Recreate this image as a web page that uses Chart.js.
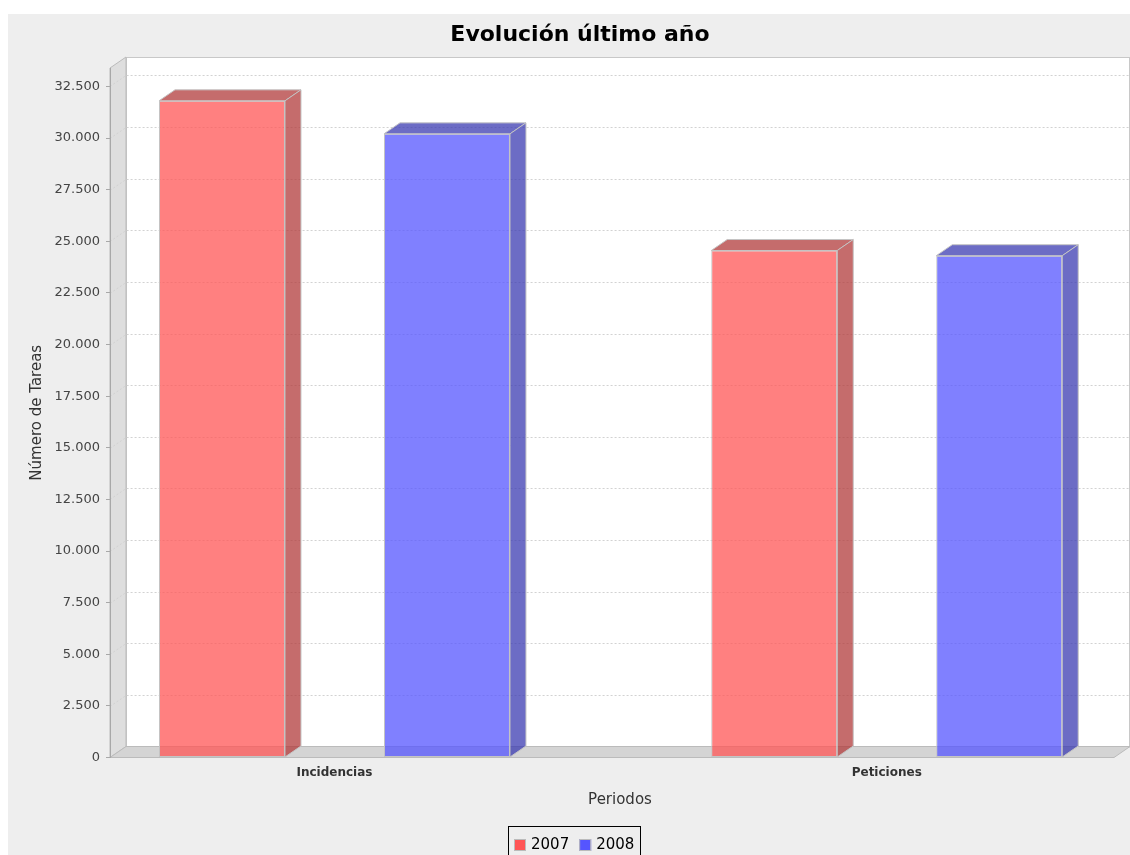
<!DOCTYPE html>
<html><head><meta charset="utf-8">
<script src="https://cdn.jsdelivr.net/npm/chart.js@4.4.1/dist/chart.umd.min.js"></script>
<style>html,body{margin:0;padding:0;background:#fff;}canvas{display:block;}</style>
</head><body>
<canvas id="c" width="1130" height="855"></canvas>
<script>
// ---- data ----
const TITLE = 'Evolución último año';
const CATEGORIES = ['Incidencias', 'Peticiones'];
const SERIES_NAMES = ['2007', '2008'];
const VALUES_2007 = [31800, 24550];
const VALUES_2008 = [30200, 24300];
const Y_TITLE = 'Número de Tareas';
const X_TITLE = 'Periodos';
const Y_MAX = 33390;
const Y_TICKS = [0, 2500, 5000, 7500, 10000, 12500, 15000, 17500, 20000, 22500, 25000, 27500, 30000, 32500];

// ---- style ----
const FONT = 'DejaVu Sans';
const FILL = ['rgba(255,85,85,0.75)', 'rgba(85,85,255,0.75)'];
const DARK = ['rgba(178,59,59,0.75)', 'rgba(59,59,178,0.75)'];
const SWATCH = ['#FF5555', '#5555FF'];
const DX = 16, DY = 11;
const X_MIN = -0.4065, X_MAX = 1.4405;

function fmt(v) { return String(v).replace(/\B(?=(\d{3})+(?!\d))/g, '.'); }

const threeD = {
  id: 'threeD',
  beforeDraw(chart) {
    const ctx = chart.ctx, a = chart.chartArea;
    const L = a.left, R = a.right, T = a.top, B = a.bottom;
    ctx.save();
    ctx.fillStyle = '#ffffff';
    ctx.fillRect(0, 0, chart.width, chart.height);
    ctx.fillStyle = '#EEEEEE';
    ctx.fillRect(8, 14, chart.width - 8, chart.height - 14);
    // back wall
    ctx.fillStyle = '#ffffff';
    ctx.fillRect(L + DX, T - DY, R - L - DX, B - T);
    ctx.strokeStyle = '#C8C8C8'; ctx.lineWidth = 1;
    ctx.strokeRect(L + DX + 0.5, T - DY + 0.5, R - L - DX - 1, B - T);
    // left wall
    ctx.beginPath();
    ctx.moveTo(L, T); ctx.lineTo(L + DX, T - DY); ctx.lineTo(L + DX, B - DY); ctx.lineTo(L, B); ctx.closePath();
    ctx.fillStyle = '#DEDEDE'; ctx.fill();
    ctx.strokeStyle = '#BBBBBB'; ctx.stroke();
    // floor
    ctx.beginPath();
    ctx.moveTo(L, B); ctx.lineTo(L + DX, B - DY); ctx.lineTo(R, B - DY); ctx.lineTo(R - DX, B); ctx.closePath();
    ctx.fillStyle = '#D4D4D4'; ctx.fill();
    ctx.strokeStyle = '#BBBBBB'; ctx.stroke();
    // gridlines
    const ys = chart.scales.y;
    ctx.setLineDash([2, 2]);
    ctx.strokeStyle = '#D2D2D2';
    ys.ticks.forEach(t => {
      if (t.value <= 0) return;
      const y = Math.round(ys.getPixelForValue(t.value)) + 0.5;
      ctx.beginPath();
      ctx.moveTo(L, y); ctx.lineTo(L + DX, y - DY); ctx.lineTo(R - 1, y - DY);
      ctx.stroke();
    });
    ctx.restore();
  },
  afterDatasetsDraw(chart) {
    const ctx = chart.ctx;
    ctx.save();
    ctx.lineWidth = 1;
    ctx.strokeStyle = '#C4C4C4';
    chart.data.datasets.forEach((ds, di) => {
      chart.getDatasetMeta(di).data.forEach(bar => {
        const x0 = bar.x - bar.width / 2, x1 = bar.x + bar.width / 2;
        const yt = bar.y, yb = bar.base;
        ctx.fillStyle = DARK[di];
        ctx.beginPath();
        ctx.moveTo(x0, yt); ctx.lineTo(x0 + DX, yt - DY); ctx.lineTo(x1 + DX, yt - DY); ctx.lineTo(x1, yt); ctx.closePath();
        ctx.fill(); ctx.stroke();
        ctx.beginPath();
        ctx.moveTo(x1, yt); ctx.lineTo(x1 + DX, yt - DY); ctx.lineTo(x1 + DX, yb - DY); ctx.lineTo(x1, yb); ctx.closePath();
        ctx.fill(); ctx.stroke();
      });
    });
    ctx.restore();
  },
  afterDraw(chart) {
    const ctx = chart.ctx;
    ctx.save();
    ctx.fillStyle = '#000';
    ctx.font = 'bold 22px "' + FONT + '"';
    ctx.textAlign = 'center'; ctx.textBaseline = 'alphabetic';
    ctx.fillText(TITLE, 580, 41);
    ctx.font = '15px "' + FONT + '"';
    const pad = 6, sw = 12, gap = 5, itemGap = 10;
    const labels = chart.data.datasets.map(d => d.label);
    const widths = labels.map(l => ctx.measureText(l).width);
    let total = pad * 2 + widths.reduce((s, w) => s + sw + gap + w, 0) + itemGap * (labels.length - 1);
    const bx = Math.round(574.5 - total / 2), by = 826;
    ctx.strokeStyle = '#000'; ctx.lineWidth = 1;
    ctx.strokeRect(bx + 0.5, by + 0.5, Math.round(total), 40);
    let x = bx + pad;
    ctx.textAlign = 'left';
    labels.forEach((l, i) => {
      ctx.fillStyle = SWATCH[i];
      ctx.fillRect(x, 839, sw, sw);
      ctx.strokeStyle = '#BBBBBB';
      ctx.strokeRect(x + 0.5, 839.5, sw - 1, sw - 1);
      ctx.fillStyle = '#000';
      ctx.fillText(l, x + sw + gap, 849);
      x += sw + gap + widths[i] + itemGap;
    });
    ctx.restore();
  }
};

const datasets = [VALUES_2007, VALUES_2008].map((vals, i) => ({
  label: SERIES_NAMES[i],
  data: vals.map((v, k) => ({ x: k, y: v })),
  backgroundColor: FILL[i],
  borderColor: '#C4C4C4',
  borderWidth: 1,
  borderSkipped: false,
  categoryPercentage: 0.8148,
  barPercentage: 0.56
}));

new Chart(document.getElementById('c'), {
  type: 'bar',
  data: { datasets },
  plugins: [threeD],
  options: {
    responsive: false,
    animation: false,
    devicePixelRatio: 1,
    layout: { padding: { top: 68, left: 0, right: 0, bottom: 0 } },
    plugins: { legend: { display: false }, title: { display: false }, tooltip: { enabled: false } },
    scales: {
      x: {
        type: 'linear',
        offset: false,
        min: X_MIN, max: X_MAX,
        afterBuildTicks: s => { s.ticks = CATEGORIES.map((_, i) => ({ value: i })); },
        ticks: { callback: v => CATEGORIES[v], font: { family: FONT, size: 12, weight: 'bold' }, color: '#333', padding: 8, autoSkip: false, maxRotation: 0 },
        grid: { display: false, drawTicks: false },
        border: { display: false },
        title: { display: true, text: X_TITLE, font: { family: FONT, size: 15 }, color: '#333', padding: { top: 0, bottom: 46 } },
        afterFit: s => { s.height = 97.5; }
      },
      y: {
        min: 0, max: Y_MAX,
        afterBuildTicks: s => { s.ticks = Y_TICKS.map(v => ({ value: v })); },
        ticks: { callback: v => fmt(v), font: { family: FONT, size: 13 }, color: '#444', padding: 6 },
        grid: { drawOnChartArea: false, drawTicks: true, tickLength: 4, color: '#A8A8A8' },
        border: { display: true, color: '#A8A8A8' },
        title: { display: true, text: Y_TITLE, font: { family: FONT, size: 15 }, color: '#333', padding: { top: 28, bottom: 0 } },
        afterFit: s => { s.width = 110; }
      }
    }
  }
});
</script>
</body></html>
